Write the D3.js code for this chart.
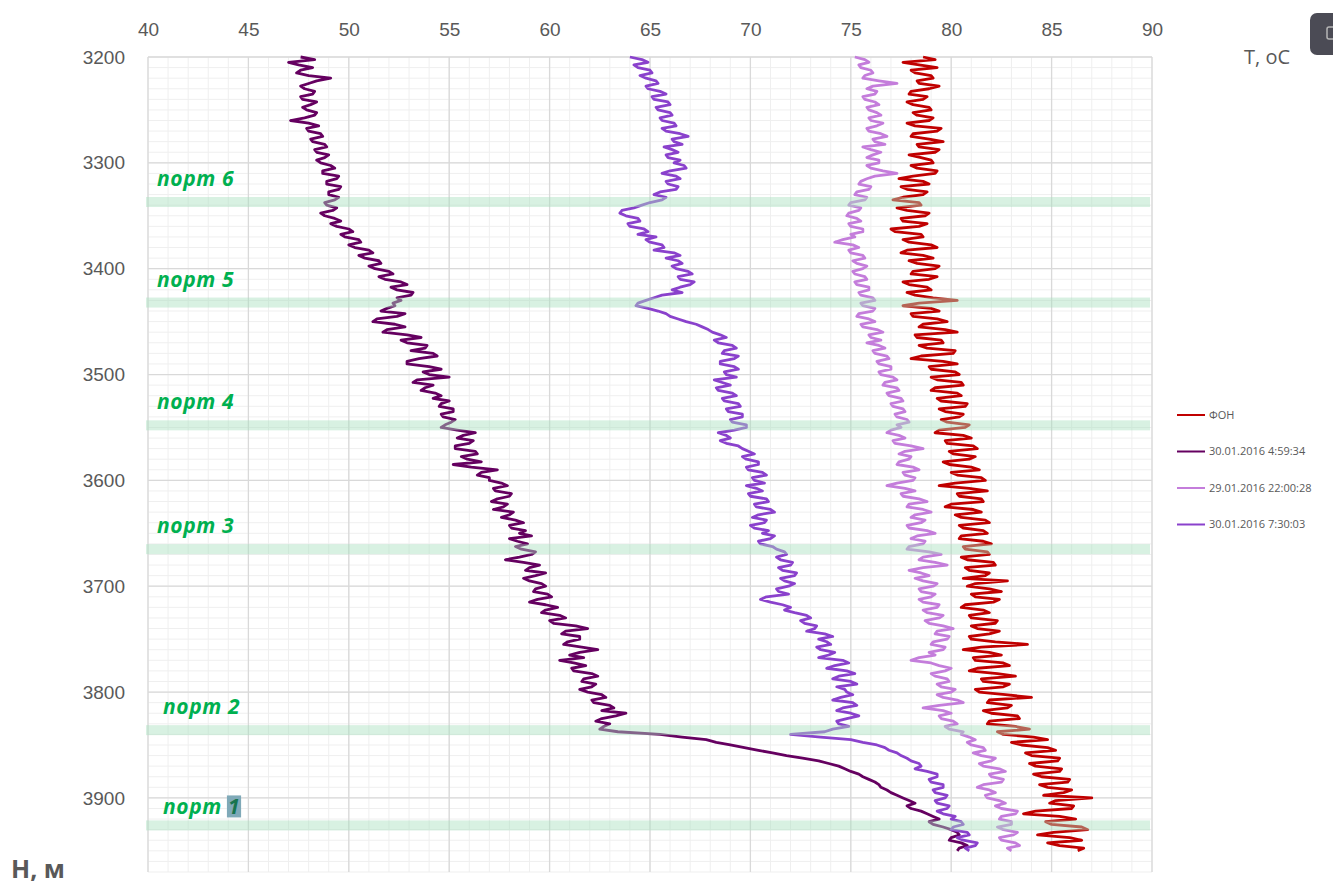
<!DOCTYPE html>
<html>
<head>
<meta charset="utf-8">
<script src="https://cdn.jsdelivr.net/npm/d3@7"></script>
<style>
    body { margin: 0; background: #fff; }
    svg { display: block; font-family: 'Open Sans', 'Liberation Sans', sans-serif; }
    .tick-label { fill: #595959; font-size: 19px; }
    .legend-label { fill: #595959; font-size: 11px; }
    .port-label { fill: #00b050; font-size: 21px; font-weight: bold; font-style: italic; letter-spacing: 0.6px; }
</style>
</head>
<body>
<div id="chart"></div>
<script>
// depth samples, every 2.5 m from 3200 to 3950
const depths = d3.range(3200, 3950.1, 2.5);

const seriesNames = ['ФОН', '30.01.2016 4:59:34', '29.01.2016 22:00:28', '30.01.2016 7:30:03'];
const seriesColors = ['#c00000', '#650060', '#c47ddb', '#8a41cc'];

const fon = [
    78.6, 79.2, 77.6, 78.4, 79.3, 78.0, 78.2, 79.0, 79.1, 78.3, 78.4, 79.4, 78.9, 78.0, 77.9, 78.8, 78.6, 77.8, 78.1, 78.9,
    79.0, 78.1, 78.3, 79.1, 78.9, 77.8, 78.2, 79.5, 79.3, 78.1, 78.0, 78.9, 79.6, 78.3, 78.4, 79.4, 79.2, 77.9, 78.5, 79.0,
    79.1, 78.0, 78.3, 79.3, 79.2, 78.1, 77.4, 78.6, 78.9, 77.5, 77.8, 78.8, 78.6, 77.6, 77.1, 78.4, 78.5, 77.3, 77.8, 78.9,
    78.7, 77.5, 77.6, 78.8, 78.4, 77.0, 77.2, 78.5, 78.6, 77.6, 77.9, 79.0, 79.3, 77.8, 77.5, 78.6, 79.1, 77.9, 78.3, 79.4,
    79.2, 78.1, 78.0, 79.3, 78.9, 77.6, 77.9, 78.8, 79.0, 77.8, 78.2, 79.1, 80.3, 78.4, 77.6, 79.0, 79.4, 78.0, 78.1, 79.3,
    79.8, 78.6, 78.4, 79.7, 80.3, 78.2, 78.3, 79.5, 79.6, 78.4, 78.8, 80.2, 80.1, 78.5, 78.0, 79.6, 80.3, 78.9, 79.0, 80.2,
    80.4, 79.0, 79.3, 80.5, 80.6, 79.2, 79.0, 80.3, 80.5, 79.3, 79.5, 80.8, 80.7, 79.4, 79.7, 80.6, 80.4, 79.5, 79.8, 80.9,
    80.7, 79.4, 79.2, 80.6, 81.0, 79.7, 79.8, 81.1, 81.3, 79.9, 80.1, 81.2, 80.9, 79.6, 79.9, 81.0, 81.4, 80.0, 80.3, 81.5,
    81.7, 80.2, 79.4, 80.9, 81.8, 80.3, 80.4, 81.5, 81.6, 80.0, 79.7, 81.1, 81.5, 80.2, 80.5, 81.7, 81.9, 80.4, 80.6, 81.6,
    81.8, 80.5, 80.4, 81.6, 82.0, 80.6, 80.7, 81.8, 81.9, 80.5, 80.8, 82.1, 82.2, 80.7, 80.9, 81.9, 81.7, 80.6, 82.8, 81.2,
    80.8, 81.9, 82.5, 81.0, 81.2, 82.4, 82.1, 80.7, 80.5, 81.6, 81.9, 80.9, 81.0, 82.3, 82.2, 81.0, 81.3, 82.4, 81.9, 80.9,
    81.0, 82.2, 83.8, 81.5, 80.6, 81.9, 82.5, 81.1, 81.2, 82.6, 82.9, 81.3, 80.9, 82.3, 83.2, 81.5, 81.6, 82.9, 82.6, 81.2,
    81.4, 82.7, 84.0, 81.9, 81.8, 83.0, 82.8, 81.6, 82.0, 83.3, 83.4, 81.9, 81.8, 83.2, 83.9, 82.3, 82.6, 84.1, 84.8, 83.0,
    83.5, 84.8, 85.2, 83.7, 84.0, 85.4, 85.3, 83.9, 84.2, 85.5, 85.4, 84.1, 84.5, 85.9, 85.8, 84.4, 84.8, 86.0, 85.6, 84.6,
    87.0, 85.2, 84.9, 86.1, 86.0, 84.2, 83.6, 85.4, 86.2, 84.7, 85.0, 86.5, 86.8, 85.1, 84.3, 85.9, 86.5, 84.8, 85.4, 86.6, 86.3
];

const run0459 = [
    47.6, 48.3, 47.0, 47.5, 48.2, 47.6, 47.4, 48.0, 49.1, 48.4, 48.0, 47.6, 47.8, 48.3, 48.2, 47.6, 47.7, 48.4, 48.1, 47.7,
    47.9, 48.4, 48.3, 47.8, 47.1, 48.0, 48.5, 47.9, 48.0, 48.6, 48.7, 48.1, 48.2, 48.8, 48.9, 48.3, 48.4, 49.0, 48.8, 48.4,
    48.6, 49.1, 49.3, 48.7, 48.7, 49.5, 49.4, 48.9, 48.9, 49.6, 49.5, 49.0, 49.0, 49.5, 49.3, 48.8, 48.9, 49.4, 49.2, 48.6,
    48.8, 49.3, 49.6, 49.1, 49.4, 50.0, 50.2, 49.6, 49.8, 50.5, 50.6, 50.0, 50.3, 51.0, 51.2, 50.5, 50.8, 51.5, 51.6, 51.0,
    51.3, 52.0, 52.2, 51.5, 51.8, 52.6, 52.9, 52.1, 52.4, 53.2, 53.1, 52.4, 52.6, 52.2, 52.3, 51.9, 51.6, 52.8, 52.4, 51.4,
    51.2, 52.3, 52.8, 51.9, 51.7, 52.9, 53.6, 52.6, 52.9, 53.9, 53.8, 53.1, 54.2, 54.4, 53.5, 52.9, 52.9, 54.0, 54.6, 53.7,
    54.0, 55.0, 53.4, 53.2, 54.2, 53.8, 53.6, 54.3, 54.6, 54.2, 55.0, 54.6, 54.5, 55.2, 55.2, 54.6, 54.7, 55.3, 55.1, 54.8,
    54.6, 55.4, 56.3, 55.7, 55.4, 56.2, 56.0, 55.3, 55.3, 56.3, 56.4, 55.6, 55.9, 56.6, 55.2, 56.1, 57.4, 56.6, 56.4, 57.0,
    57.0, 57.6, 57.9, 57.2, 57.3, 58.1, 58.0, 57.4, 57.1, 57.9, 57.7, 57.2, 58.2, 58.0, 57.6, 58.3, 58.7, 58.0, 58.1, 58.8,
    58.5, 59.1, 58.0, 58.4, 58.9, 58.3, 58.6, 59.3, 59.1, 58.5, 57.8, 58.7, 59.5, 59.0, 58.8, 59.8, 59.3, 58.7, 59.0, 59.6,
    59.8, 59.3, 59.2, 59.9, 60.1, 59.4, 59.0, 59.8, 60.4, 59.8, 59.6, 60.5, 60.8, 60.0, 60.2, 61.3, 61.9, 60.8, 60.6, 61.5,
    61.5, 60.9, 60.7, 61.6, 62.4, 61.5, 61.0, 61.7, 60.5, 61.2, 61.8, 61.1, 61.2, 62.1, 62.4, 61.7, 61.6, 62.3, 62.1, 61.5,
    61.9, 62.6, 62.8, 62.1, 62.2, 63.0, 63.2, 62.6, 63.8, 63.3, 62.6, 62.3, 63.0, 62.7, 62.5, 63.4, 65.5, 66.6, 67.8, 68.3,
    69.0, 69.7, 70.4, 71.1, 71.8, 72.6, 73.4, 73.9, 74.4, 74.7, 75.0, 75.4, 75.6, 75.9, 76.2, 76.4, 76.5, 76.8, 77.0, 77.3,
    77.6, 77.9, 78.2, 77.8, 78.0, 78.5, 78.8, 79.1, 79.4, 78.9, 79.1, 79.6, 80.0, 80.3, 80.4, 80.0, 79.9, 80.5, 80.8, 80.4, 80.3
];

const run2200 = [
    75.2, 75.7, 75.9, 75.4, 75.5, 76.0, 76.1, 75.7, 75.6, 76.4, 77.3, 76.1, 75.8, 76.3, 76.2, 75.6, 75.7, 76.2, 76.4, 75.8,
    75.9, 76.3, 76.5, 75.9, 76.0, 76.6, 76.3, 75.8, 75.9, 76.5, 76.8, 76.1, 76.2, 76.7, 75.6, 76.0, 76.5, 76.1, 75.8, 76.4,
    76.4, 75.8, 76.0, 76.6, 77.3, 76.2, 75.8, 75.5, 75.4, 76.0, 75.9, 75.3, 75.2, 75.8, 75.7, 75.0, 74.9, 75.5, 75.4, 74.9,
    74.8, 75.3, 75.5, 74.9, 75.0, 75.6, 75.6, 75.0, 75.2, 74.6, 74.2, 75.1, 75.4, 74.9, 75.0, 75.6, 75.7, 75.1, 75.3, 75.8,
    75.6, 75.1, 75.2, 75.7, 75.8, 75.2, 75.3, 75.9, 75.9, 75.4, 75.5, 76.1, 76.2, 75.5, 75.6, 76.2, 76.1, 75.4, 75.3, 75.9,
    76.2, 75.5, 75.6, 76.3, 76.6, 75.9, 76.0, 76.5, 75.8, 76.4, 76.7, 76.1, 76.2, 76.8, 76.9, 76.3, 76.4, 77.0, 77.0, 76.4,
    76.5, 77.1, 77.3, 76.7, 76.6, 77.3, 77.4, 76.8, 76.9, 77.5, 77.6, 77.0, 77.1, 77.6, 77.7, 77.2, 77.3, 77.8, 77.9, 77.3,
    77.5, 77.0, 76.8, 77.4, 77.7, 77.1, 77.2, 78.0, 78.6, 77.7, 77.4, 78.0, 77.9, 77.4, 77.3, 78.1, 78.4, 77.6, 77.7, 78.2,
    78.1, 77.3, 76.8, 77.7, 78.2, 77.5, 77.6, 78.4, 78.8, 77.9, 77.8, 78.6, 79.0, 78.2, 78.0, 78.7, 78.5, 77.8, 77.9, 78.8,
    79.2, 78.3, 78.0, 78.7, 78.6, 77.9, 77.8, 78.9, 79.5, 78.6, 78.4, 79.2, 79.8, 78.6, 77.9, 78.5, 78.9, 78.2, 78.6, 79.3,
    79.1, 78.4, 78.5, 79.2, 79.0, 78.4, 78.6, 79.4, 79.3, 78.6, 78.8, 79.6, 79.4, 78.7, 78.9, 79.6, 80.1, 79.3, 79.2, 79.9,
    79.8, 79.1, 79.0, 79.7, 79.6, 78.9, 79.2, 78.4, 78.0, 79.0, 79.4, 80.0, 79.7, 79.0, 79.2, 79.8, 79.9, 79.3, 79.5, 80.2,
    80.0, 79.3, 79.6, 80.3, 80.6, 79.4, 78.6, 79.6, 80.0, 79.4, 79.5, 80.1, 80.3, 79.7, 79.9, 80.6, 80.5, 80.9, 81.2, 80.8,
    81.0, 81.6, 81.7, 81.1, 81.5, 82.2, 82.0, 81.4, 81.6, 82.4, 82.7, 81.9, 82.0, 82.6, 82.5, 81.6, 81.3, 81.9, 82.2, 81.7,
    81.8, 82.4, 82.7, 82.2, 82.5, 83.3, 83.2, 82.5, 82.4, 83.0, 83.0, 82.3, 82.6, 83.3, 83.1, 82.4, 82.5, 83.2, 83.4, 82.8, 83.0
];

const run0730 = [
    64.0, 64.6, 64.9, 64.2, 64.4, 65.0, 65.1, 64.5, 64.8, 65.3, 65.4, 64.8, 64.9, 65.5, 65.8, 65.1, 65.2, 65.9, 66.0, 65.3,
    65.4, 66.0, 66.1, 65.5, 65.6, 66.2, 66.3, 65.6, 65.8, 66.5, 66.9, 66.1, 66.2, 66.6, 65.7, 66.1, 66.4, 65.8, 65.9, 66.5,
    66.2, 66.7, 66.8, 66.0, 65.6, 66.3, 66.5, 65.8, 65.9, 66.4, 66.3, 65.5, 65.2, 65.8, 65.6, 65.0, 64.6, 64.2, 63.6, 63.5,
    63.8, 64.4, 64.5, 63.9, 64.0, 64.7, 64.9, 64.4, 65.3, 64.8, 65.0, 65.6, 65.7, 65.2, 66.2, 66.5, 65.8, 66.4, 66.6, 66.1,
    66.3, 66.9, 67.1, 66.4, 66.5, 67.2, 67.0, 66.5, 66.1, 66.6, 65.6, 65.2, 64.8, 64.4, 64.3, 64.9, 65.4, 65.8, 66.0, 66.4,
    66.8, 67.3, 67.6, 67.9, 68.1, 68.5, 68.8, 68.2, 68.4, 69.1, 69.3, 68.7, 68.6, 69.4, 69.2, 68.5, 68.5, 69.2, 69.4, 68.7,
    68.8, 69.3, 68.2, 68.6, 69.0, 68.3, 68.4, 69.1, 69.3, 68.6, 68.7, 69.4, 69.5, 68.8, 68.9, 69.6, 69.6, 69.0, 69.1, 69.8,
    69.8, 69.2, 68.4, 68.8, 69.0, 68.5, 68.8, 69.4, 69.6, 69.9, 70.2, 69.6, 69.8, 70.4, 70.4, 69.8, 69.9, 70.6, 70.8, 70.1,
    70.2, 70.7, 69.8, 70.3, 70.6, 69.9, 70.0, 70.8, 70.9, 70.2, 70.3, 71.0, 71.2, 70.4, 70.1, 70.8, 70.7, 70.0, 70.2, 70.9,
    70.6, 71.2, 71.0, 70.4, 70.5, 71.1, 71.3, 71.7, 71.8, 71.3, 71.5, 72.1, 72.0, 71.4, 71.6, 72.3, 72.2, 71.5, 71.7, 72.2,
    71.9, 71.3, 71.4, 71.9, 70.8, 70.5, 71.0, 71.6, 72.0, 71.7, 72.2, 72.8, 73.0, 72.5, 72.7, 73.3, 73.2, 72.8, 73.7, 74.1,
    73.4, 73.8, 74.0, 73.3, 73.5, 74.2, 73.9, 73.4, 74.6, 74.9, 74.2, 73.8, 74.8, 75.2, 74.4, 74.1, 75.0, 75.3, 74.3, 74.7,
    74.8, 75.1, 74.5, 74.1, 75.1, 75.3, 74.6, 74.3, 75.0, 75.4, 74.8, 74.3, 74.4, 74.9, 74.1, 73.7, 72.0, 73.5, 75.0, 75.6,
    76.3, 76.7, 76.9, 77.3, 77.5, 77.8, 78.0, 78.4, 78.5, 78.2, 78.8, 79.3, 79.3, 78.9, 79.0, 79.6, 79.6, 79.1, 79.2, 79.8,
    79.7, 79.2, 79.3, 79.9, 79.8, 79.3, 79.6, 80.2, 80.0, 80.5, 80.6, 80.1, 80.0, 80.8, 80.9, 80.3, 80.6, 81.3, 81.2, 80.7, 80.9
];

const seriesValues = [fon, run0459, run2200, run0730];

// ports: name and depth of the band
const portNames = ['порт 6', 'порт 5', 'порт 4', 'порт 3', 'порт 2', 'порт 1'];
const portDepths = [3337, 3432, 3548, 3665, 3836, 3926];

const xTicks = [40, 45, 50, 55, 60, 65, 70, 75, 80, 85, 90];
const yTicks = [3200, 3300, 3400, 3500, 3600, 3700, 3800, 3900];

function drawChart() {
    const W = 1333, H = 887;
    const left = 148, right = 1152, top = 57, bottom = 872;

    const x = d3.scaleLinear().domain([40, 90]).range([left, right]);
    const y = d3.scaleLinear().domain([3200, 3970]).range([top, bottom]);

    const svg = d3.select('#chart').append('svg')
        .attr('width', W)
        .attr('height', H);

    const grid = svg.append('g');

    // minor grid
    grid.selectAll('line.vminor')
        .data(d3.range(40, 91, 1))
        .join('line')
        .attr('x1', function(d) { return x(d); })
        .attr('x2', function(d) { return x(d); })
        .attr('y1', top)
        .attr('y2', bottom)
        .attr('stroke', '#efefef')
        .attr('stroke-width', 1);

    grid.selectAll('line.hminor')
        .data(d3.range(3200, 3971, 10))
        .join('line')
        .attr('x1', left)
        .attr('x2', right)
        .attr('y1', function(d) { return y(d); })
        .attr('y2', function(d) { return y(d); })
        .attr('stroke', '#efefef')
        .attr('stroke-width', 1);

    // major grid
    grid.selectAll('line.vmajor')
        .data(xTicks)
        .join('line')
        .attr('x1', function(d) { return x(d); })
        .attr('x2', function(d) { return x(d); })
        .attr('y1', top)
        .attr('y2', bottom)
        .attr('stroke', '#d9d9d9')
        .attr('stroke-width', 1.3);

    grid.selectAll('line.hmajor')
        .data(yTicks)
        .join('line')
        .attr('x1', left)
        .attr('x2', right)
        .attr('y1', function(d) { return y(d); })
        .attr('y2', function(d) { return y(d); })
        .attr('stroke', '#d9d9d9')
        .attr('stroke-width', 1.3);

    // axes (top and left), only labels are visible
    const xAxis = svg.append('g')
        .attr('transform', 'translate(0,' + top + ')')
        .call(d3.axisTop(x).tickValues(xTicks).tickSize(0).tickPadding(21));
    xAxis.select('.domain').remove();
    xAxis.selectAll('text').attr('class', 'tick-label').attr('fill', null);

    const yAxis = svg.append('g')
        .attr('transform', 'translate(' + left + ',0)')
        .call(d3.axisLeft(y).tickValues(yTicks).tickSize(0).tickPadding(23).tickFormat(d3.format('d')));
    yAxis.select('.domain').remove();
    yAxis.selectAll('text').attr('class', 'tick-label').attr('fill', null);

    // series
    const line = d3.line()
        .x(function(d) { return x(d.v); })
        .y(function(d) { return y(d.h); });

    const lines = svg.append('g');
    seriesValues.forEach(function(vals, i) {
        const pts = vals.map(function(v, j) { return {h: depths[j], v: v}; });
        lines.append('path')
            .datum(pts)
            .attr('fill', 'none')
            .attr('stroke', seriesColors[i])
            .attr('stroke-width', 2.8)
            .attr('stroke-linejoin', 'round')
            .attr('d', line);
    });

    // port bands over the lines
    svg.append('g').selectAll('rect.band')
        .data(portDepths)
        .join('rect')
        .attr('x', left - 2)
        .attr('width', right - left)
        .attr('y', function(d) { return y(d) - 5; })
        .attr('height', 10)
        .attr('fill', '#a9dfbf')
        .attr('opacity', 0.45);

    const hl = svg.append('rect').attr('fill', '#7fa9b8');

    const labels = svg.append('g').selectAll('text.port-label')
        .data(portNames)
        .join('text')
        .attr('class', 'port-label')
        .attr('x', function(d, i) { return i < 4 ? 157 : 163; })
        .attr('y', function(d, i) { return y(portDepths[i]) - (i === 5 ? 11 : 16); })
        .text(function(d) { return d; });

    // selection highlight behind the "1" of the last label
    const last = labels.nodes()[5];
    const ext = last.getExtentOfChar(5);
    hl.attr('x', ext.x - 1)
        .attr('y', ext.y + 3)
        .attr('width', ext.width + 2)
        .attr('height', ext.height - 6);
    d3.select(last).text('порт ');
    d3.select(last).append('tspan').attr('fill', '#17744e').text('1');

    // axis titles
    svg.append('text')
        .attr('x', 1244)
        .attr('y', 64)
        .attr('fill', '#595959')
        .attr('font-size', 20)
        .text('T, oC');

    svg.append('text')
        .attr('x', 11)
        .attr('y', 878)
        .attr('fill', '#595959')
        .attr('font-size', 25)
        .attr('font-weight', 'bold')
        .text('H, м');

    // legend
    const legend = svg.append('g')
        .attr('transform', 'translate(1177,415)');
    const item = legend.selectAll('g')
        .data(seriesNames)
        .join('g')
        .attr('transform', function(d, i) { return 'translate(0,' + (i * 36.5) + ')'; });
    item.append('line')
        .attr('x1', 0)
        .attr('x2', 28)
        .attr('stroke', function(d, i) { return seriesColors[i]; })
        .attr('stroke-width', 2);
    item.append('text')
        .attr('class', 'legend-label')
        .attr('x', 32)
        .attr('dy', '0.35em')
        .text(function(d) { return d; });

    // dark toolbar button at the top right corner
    svg.append('rect')
        .attr('x', 1310)
        .attr('y', 13)
        .attr('width', 40)
        .attr('height', 42)
        .attr('rx', 7)
        .attr('fill', '#4b4b55');
    svg.append('rect')
        .attr('x', 1327)
        .attr('y', 27)
        .attr('width', 10)
        .attr('height', 12)
        .attr('rx', 2)
        .attr('fill', 'none')
        .attr('stroke', '#b5b5b5')
        .attr('stroke-width', 1.5);
}

drawChart();
</script>
</body>
</html>
